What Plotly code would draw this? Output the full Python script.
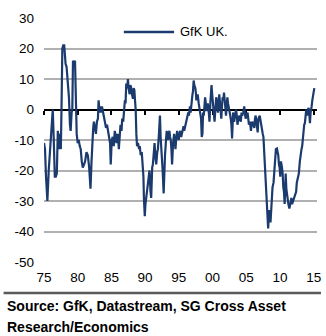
import plotly.graph_objects as go

# ---------------- data ----------------
years = [
    1975.0, 1975.15, 1975.3, 1975.5, 1975.7, 1975.9, 1976.0, 1976.15, 1976.3, 1976.45,
    1976.6, 1976.75, 1976.9, 1977.05, 1977.2, 1977.3, 1977.4, 1977.5, 1977.6, 1977.72,
    1977.85, 1978.0, 1978.1, 1978.2, 1978.35, 1978.5, 1978.7, 1978.85, 1978.95, 1979.1,
    1979.2, 1979.3, 1979.45, 1979.6, 1979.7, 1979.85, 1980.0, 1980.15, 1980.3, 1980.45,
    1980.6, 1980.75, 1980.95, 1981.1, 1981.3, 1981.5, 1981.7, 1981.9, 1982.05, 1982.15,
    1982.3, 1982.4, 1982.55, 1982.7, 1982.85, 1983.0, 1983.1, 1983.25, 1983.4, 1983.5,
    1983.6, 1983.75, 1983.9, 1984.05, 1984.2, 1984.35, 1984.5, 1984.65, 1984.8, 1984.9,
    1985.05, 1985.2, 1985.35, 1985.5, 1985.65, 1985.75, 1985.9, 1986.0, 1986.1, 1986.25,
    1986.35, 1986.5, 1986.6, 1986.75, 1986.85, 1987.0, 1987.1, 1987.2, 1987.35, 1987.45,
    1987.55, 1987.7, 1987.8, 1987.9, 1988.05, 1988.2, 1988.3, 1988.4, 1988.5, 1988.6,
    1988.7, 1988.8, 1988.95, 1989.1, 1989.2, 1989.35, 1989.5, 1989.65, 1989.75, 1989.82,
    1989.95, 1990.05, 1990.15, 1990.3, 1990.4, 1990.55, 1990.65, 1990.8, 1990.9, 1991.05,
    1991.15, 1991.3, 1991.4, 1991.55, 1991.65, 1991.8, 1991.9, 1992.05, 1992.2, 1992.3,
    1992.4, 1992.5, 1992.6, 1992.75, 1992.85, 1992.95, 1993.1, 1993.2, 1993.3, 1993.4,
    1993.5, 1993.6, 1993.7, 1993.8, 1993.9, 1994.0, 1994.15, 1994.3, 1994.4, 1994.5,
    1994.6, 1994.75, 1994.85, 1994.98, 1995.1, 1995.2, 1995.35, 1995.45, 1995.6, 1995.7,
    1995.8, 1995.9, 1996.05, 1996.2, 1996.3, 1996.4, 1996.5, 1996.65, 1996.75, 1996.85,
    1997.0, 1997.1, 1997.2, 1997.3, 1997.45, 1997.55, 1997.6, 1997.7, 1997.8, 1997.95,
    1998.1, 1998.2, 1998.3, 1998.4, 1998.5, 1998.6, 1998.7, 1998.8, 1998.9, 1999.0,
    1999.1, 1999.2, 1999.3, 1999.45, 1999.55, 1999.7, 1999.85, 1999.95, 2000.1, 2000.2,
    2000.3, 2000.45, 2000.55, 2000.7, 2000.8, 2000.9, 2001.0, 2001.15, 2001.3, 2001.4,
    2001.5, 2001.6, 2001.7, 2001.85, 2002.0, 2002.1, 2002.2, 2002.3, 2002.4, 2002.55,
    2002.7, 2002.8, 2002.9, 2003.05, 2003.15, 2003.2, 2003.35, 2003.5, 2003.6, 2003.7,
    2003.85, 2004.0, 2004.1, 2004.2, 2004.3, 2004.4, 2004.55, 2004.7, 2004.8, 2004.9,
    2005.05, 2005.2, 2005.3, 2005.4, 2005.55, 2005.7, 2005.8, 2005.9, 2006.05, 2006.2,
    2006.3, 2006.4, 2006.5, 2006.6, 2006.7, 2006.8, 2006.9, 2007.0, 2007.15, 2007.3,
    2007.45, 2007.55, 2007.75, 2007.95, 2008.1, 2008.25, 2008.35, 2008.45, 2008.6, 2008.7,
    2008.8, 2008.9, 2009.05, 2009.15, 2009.25, 2009.4, 2009.55, 2009.65, 2009.75, 2009.85,
    2009.95, 2010.05, 2010.15, 2010.3, 2010.4, 2010.5, 2010.6, 2010.7, 2010.8, 2010.85,
    2010.95, 2011.05, 2011.15, 2011.25, 2011.4, 2011.5, 2011.6, 2011.7, 2011.8, 2011.95,
    2012.1, 2012.2, 2012.3, 2012.4, 2012.5, 2012.6, 2012.7, 2012.8, 2012.95, 2013.1,
    2013.2, 2013.3, 2013.4, 2013.5, 2013.6, 2013.7, 2013.8, 2013.9, 2014.0, 2014.05,
    2014.15, 2014.25, 2014.35, 2014.45, 2014.55, 2014.6, 2014.7, 2014.8, 2014.9, 2015.0,
    2015.1,
]
gfk_uk = [
    -11, -13, -22, -30, -20, -13, -12, -3, 0, -10,
    -22, -22, -21, -7, -10, -13, -8, -13, 1, 20,
    21, 21, 18, 15, 14, 9, 4, -5, -7, -1,
    0, 16, 15, 16, -1, -8, -11, -10, -12, -13,
    -17, -19, -18, -17, -14, -15, -19, -26, -17, -11,
    -6, -4, -7, -8, -4, -3, 3, -1, 1, -1,
    1, -1, -2, -4, -6, -5, -8, -9, -11, -18,
    -10, -9, -12, -7, -9, -11, -8, -9, -13, -6,
    -5, -7, -3, -4, 0, 3, 2, 8.5, 7, 10,
    7, 5, 8, 7.5, 5, 3.5, 7, 6.5, 3, 0,
    -8, -12, -11, -13, -12, -15, -14, -18, -22, -29,
    -35, -31, -29, -27, -25, -21, -20, -27, -29, -19,
    -18, -14, -11, -16, -18, -14, -13, -8, -2, -9,
    -12, -16, -20, -27.5, -20, -15, -10, -7, -9, -10,
    -8, -7, -9, -10, -13, -18, -11, -8, -10, -13,
    -10, -7, -9, -10, -8, -7, -9, -8, -6, -5.5,
    -7, -6, -5, -3.5, -2, -1, -2, 1, -1, 2,
    4.5, 6, 9.5, 8, 7, 5, 3, 4, 5, 2,
    0, -2, -3, -9, -8, -1, -2, 1, 4, 2,
    -0.5, 1, 2, -1, -4, 3, 8, 5, 1, -1,
    -4, 1, 4, 2, -1, 2, 5, 1, -3, 1,
    4, 3, 5.5, 2, -2, 1, 4, 2, 0, -1,
    -3, -5, -9.5, -1, -2, -4, -2, 0, -2, -5,
    -3, -2, -3, -4, -1, -2, -1, 1, -1, -3,
    -2, -1, -3, -5, -4, -7, -5, -4, -5, -6,
    -3, -2, -4, -6, -7.5, -3, -2.5, -2, -4, -7,
    -8, -9, -18, -24, -32, -39, -35, -33, -37, -31,
    -29, -25.5, -24, -20, -17, -13, -12.8, -14, -15, -18,
    -19, -22, -17, -19, -21, -25.5, -27, -31, -24, -21,
    -26, -28, -29, -31, -32.5, -31, -30, -29, -31, -30,
    -29.5, -29, -28, -27, -24, -23, -22, -21, -17, -13.5,
    -13, -12, -9, -7.5, -5, -4.5, -2, 0, -1, -2,
    0, 0.5, -1, -4.5, -1, 1, 1, 3, 4, 6,
    7,
]
series_name = "GfK UK."
y_tick_values = [-50, -40, -30, -20, -10, 0, 10, 20, 30]
y_tick_labels = ["-50", "-40", "-30", "-20", "-10", "0", "10", "20", "30"]
x_tick_values = [1975, 1980, 1985, 1990, 1995, 2000, 2005, 2010, 2015]
x_tick_labels = ["75", "80", "85", "90", "95", "00", "05", "10", "15"]
source_lines = ["Source: GfK, Datastream, SG Cross Asset", "Research/Economics"]

# ---------------- layout ----------------
W, H = 326, 336
L, R, T, B = 44, 5, 18, 74
PW, PH = W - L - R, H - T - B
PX_PER_YEAR = 6.84
Y_MIN, Y_MAX = -50, 30

LINE_COLOR = "#1b3a6d"
FONT = "Liberation Sans, Arial, sans-serif"


def px(x):
    return (x - L) / PW


def py(y):
    return (H - B - y) / PH


fig = go.Figure()
fig.add_trace(go.Scatter(
    x=years, y=gfk_uk, mode="lines", name=series_name,
    line=dict(color=LINE_COLOR, width=2.2), showlegend=False,
))

fig.update_layout(
    width=W, height=H,
    margin=dict(l=L, r=R, t=T, b=B, pad=0),
    paper_bgcolor="white", plot_bgcolor="white",
    font=dict(family=FONT, size=13, color="black"),
    xaxis=dict(
        range=[1975, 1975 + PW / PX_PER_YEAR],
        tickvals=x_tick_values, ticktext=x_tick_labels,
        anchor="free", position=(0 - Y_MIN) / (Y_MAX - Y_MIN),
        showline=True, linecolor="black", linewidth=2,
        ticks="outside", ticklen=4, tickwidth=1.5, tickcolor="black",
        ticklabelstandoff=151, ticklabeloverflow="allow",
        showgrid=False, zeroline=False, layer="below traces",
        tickfont=dict(family=FONT, size=13.5, color="black"),
    ),
    yaxis=dict(
        range=[Y_MIN, Y_MAX],
        tickvals=y_tick_values, ticktext=y_tick_labels,
        showgrid=True, gridcolor="#b0b0b0", gridwidth=1.5,
        zeroline=False, showline=False, ticks="",
        ticklabelstandoff=9,
        tickfont=dict(family=FONT, size=13.5, color="black"),
    ),
    shapes=[
        # legend sample line
        dict(type="line", xref="paper", yref="paper",
             x0=px(125), x1=px(176), y0=py(32), y1=py(32),
             line=dict(color=LINE_COLOR, width=2.5)),
        # separator above source
        dict(type="line", xref="paper", yref="paper",
             x0=px(3), x1=px(325), y0=py(293), y1=py(293),
             line=dict(color="#5a5a5a", width=2.5)),
    ],
    annotations=[
        dict(text=series_name, xref="paper", yref="paper", x=px(180), y=py(32),
             xanchor="left", yanchor="middle", showarrow=False,
             font=dict(family=FONT, size=13, color="black")),
        dict(text="<b>" + source_lines[0] + "</b>", xref="paper", yref="paper",
             x=px(4), y=py(306), xanchor="left", yanchor="middle", showarrow=False,
             font=dict(family=FONT, size=14, color="black")),
        dict(text="<b>" + source_lines[1] + "</b>", xref="paper", yref="paper",
             x=px(4), y=py(327), xanchor="left", yanchor="middle", showarrow=False,
             font=dict(family=FONT, size=14, color="black")),
    ],
)

fig.write_html("out.html")
